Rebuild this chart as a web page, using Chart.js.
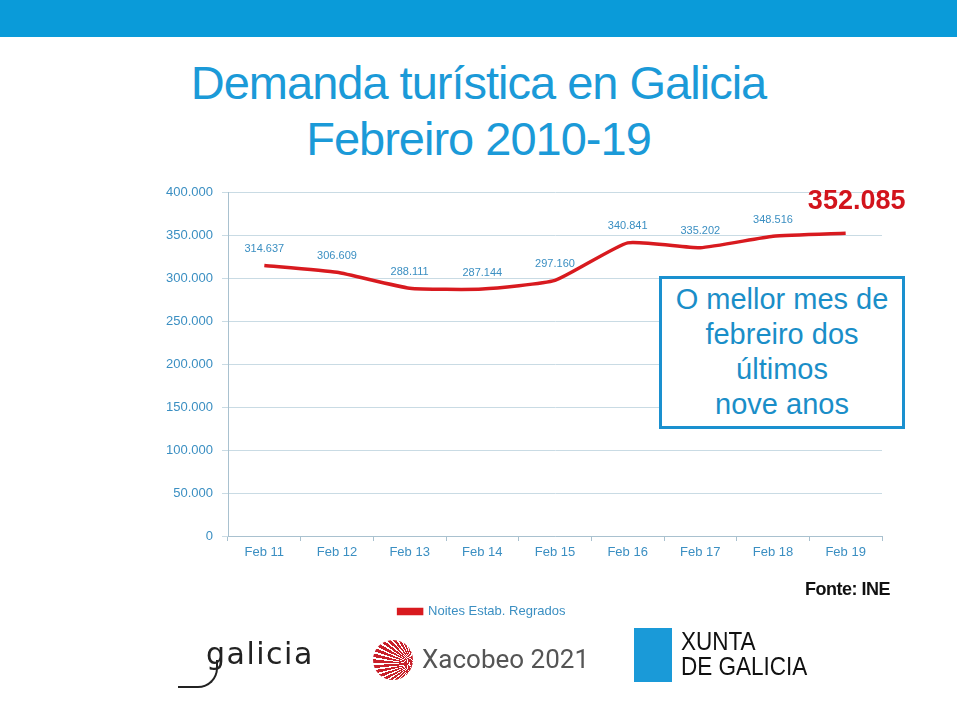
<!DOCTYPE html>
<html>
<head>
<meta charset="utf-8">
<script src="https://cdn.jsdelivr.net/npm/chart.js@4.4.0/dist/chart.umd.min.js"></script>
<style>
  body { margin: 0; background: #fff; font-family: "Liberation Sans", Arial, sans-serif; }
  #page { position: relative; width: 957px; height: 716px; overflow: hidden; }
  #topbar { position: absolute; left: 0; top: 0; width: 957px; height: 37px; background: #0a9bd9; }
  #title { position: absolute; left: 0; width: 957px; top: 55px; text-align: center; color: #1b9ad8;
           font-size: 47px; line-height: 56px; letter-spacing: -1px; }
  #chartWrap { position: absolute; left: 0; top: 0; width: 964px; height: 716px; }
  #note { position: absolute; left: 659px; top: 276px; width: 240px; height: 144px; border: 3px solid #1a90cf;
          color: #1a8ec8; font-size: 29px; line-height: 35px; text-align: center; padding-top: 3px; box-sizing: content-box;
          background: #fff; white-space: nowrap; }
  #fonte { position: absolute; right: 67px; top: 579px; font-weight: bold; font-size: 18px; color: #111; letter-spacing: -0.5px; }
  .logo { position: absolute; }
  #galicia { left: 206px; top: 636px; font-family: "DejaVu Sans", sans-serif; font-size: 30px;
             color: #222; letter-spacing: 1.5px; }
  #swoosh { left: 178px; top: 660px; width: 38px; height: 26px; border-bottom: 2px solid #222; border-right: 2px solid #222;
            border-radius: 0 0 20px 0; }
  #shell { left: 373px; top: 640px; width: 40px; height: 40px; border-radius: 50%;
           background: repeating-conic-gradient(from 200deg at 100% 60%, #c8202a 0deg 5deg, #fff 5deg 8deg); }
  #xacobeo { left: 422px; top: 644px; font-family: "Roboto", "Liberation Sans", sans-serif; font-size: 26px; color: #555; }
  #xunta-box { left: 634px; top: 628px; width: 38px; height: 54px; background: #1a9ad8; }
  #xunta { left: 681px; top: 629px; font-size: 25px; line-height: 25px; color: #111;
           transform: scaleX(0.9); transform-origin: left top; }
</style>
</head>
<body>
<div id="page">
  <div id="topbar"></div>
  <div id="title">Demanda turística en Galicia<br>Febreiro 2010-19</div>
  <div id="chartWrap"><canvas id="chart" width="964" height="716"></canvas></div>
  <div id="note">O mellor mes de<br>febreiro dos<br>últimos<br>nove anos</div>
  <div id="fonte">Fonte: INE</div>
  <div class="logo" id="swoosh"></div>
  <div class="logo" id="galicia">galicia</div>
  <div class="logo" id="shell"></div>
  <div class="logo" id="xacobeo">Xacobeo 2021</div>
  <div class="logo" id="xunta-box"></div>
  <div class="logo" id="xunta">XUNTA<br>DE GALICIA</div>
</div>
<script>
// chart data
const months = ['Feb 11', 'Feb 12', 'Feb 13', 'Feb 14', 'Feb 15', 'Feb 16', 'Feb 17', 'Feb 18', 'Feb 19'];
const nights = [314637, 306609, 288111, 287144, 297160, 340841, 335202, 348516, 352085];
const seriesName = 'Noites Estab. Regrados';

const blueText = '#3b8fc2';

function fmt(v) {
  return String(v).replace(/\B(?=(\d{3})+(?!\d))/g, '.');
}

// draws the value above each point, the last one big and red
const valueLabels = {
  id: 'valueLabels',
  afterDatasetsDraw(chart) {
    const ctx = chart.ctx;
    const meta = chart.getDatasetMeta(0);
    const data = chart.data.datasets[0].data;
    ctx.save();
    ctx.textAlign = 'center';
    ctx.textBaseline = 'bottom';
    meta.data.forEach(function(pt, i) {
      if (i === data.length - 1) {
        ctx.font = 'bold 27px "Liberation Sans", Arial, sans-serif';
        ctx.fillStyle = '#d2141c';
        ctx.fillText(fmt(data[i]), pt.x + 11, pt.y - 18);
      } else {
        ctx.font = '11px "Liberation Sans", Arial, sans-serif';
        ctx.fillStyle = blueText;
        ctx.fillText(fmt(data[i]), pt.x, pt.y - 11);
      }
    });
    ctx.restore();
  }
};

new Chart(document.getElementById('chart').getContext('2d'), {
  type: 'line',
  data: {
    labels: months,
    datasets: [{
      label: seriesName,
      data: nights,
      borderColor: '#d81a1f',
      backgroundColor: '#d81a1f',
      borderWidth: 3.5,
      pointRadius: 0,
      tension: 0.15
    }]
  },
  options: {
    responsive: false,
    animation: false,
    layout: { padding: { left: 82, right: 82, top: 192, bottom: 88 } },
    plugins: {
      legend: {
        position: 'bottom',
        labels: {
          boxWidth: 23, boxHeight: 4, padding: 6,
          color: blueText,
          font: { size: 13, family: '"Liberation Sans", Arial, sans-serif' }
        }
      },
      tooltip: { enabled: false }
    },
    scales: {
      x: {
        offset: true,
        grid: { offset: true, drawOnChartArea: false, tickLength: 5, color: '#a9c1cf' },
        border: { color: '#a9c1cf' },
        ticks: { color: blueText, padding: 4, font: { size: 13, family: '"Liberation Sans", Arial, sans-serif' } },
        afterFit(scale) { scale.height = 63; }
      },
      y: {
        min: 0, max: 400000,
        ticks: { stepSize: 50000, color: blueText, padding: 9, callback: fmt,
                 font: { size: 13, family: '"Liberation Sans", Arial, sans-serif' } },
        grid: { color: '#c9dbe4', tickLength: 6 },
        border: { color: '#a9c1cf' },
        afterFit(scale) { scale.width = 146; }
      }
    }
  },
  plugins: [valueLabels]
});
</script>
</body>
</html>
